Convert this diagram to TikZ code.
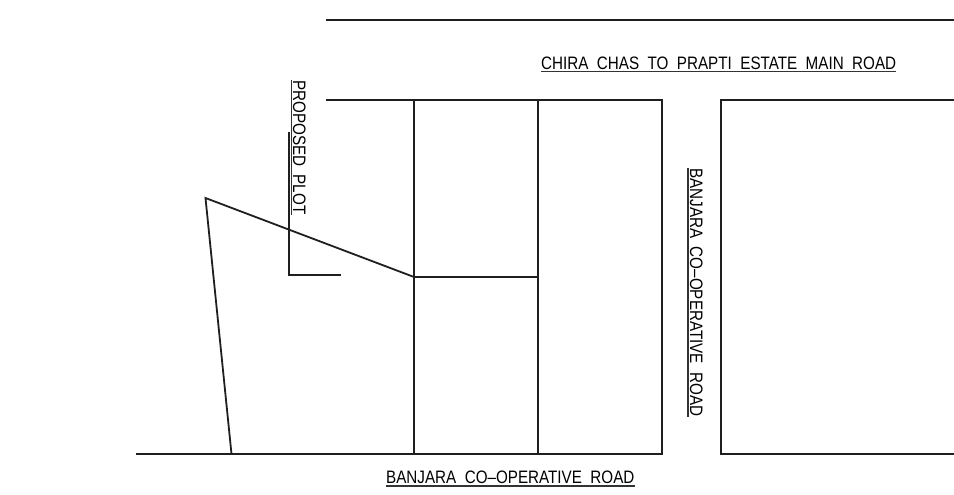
\documentclass[tikz,border=0pt]{standalone}
\usepackage{fontspec}
\setmainfont{Liberation Sans}
\newfontfamily\planofont[FakeStretch=0.845]{Liberation Sans}
\tikzset{
  muro/.style={line width=1.8pt, black!88},
  rotulo/.style={inner sep=0pt, font=\planofont\fontsize{18}{18}\selectfont, text height=13pt, text depth=0pt},
  subraya/.style={line width=1.4pt, black!80}
}
\begin{document}
\begin{tikzpicture}[x=1pt,y=-1pt]
  \useasboundingbox (0,0) rectangle (954,495);
  % Calle superior
  \draw[muro] (326,20) -- (954,20);
  \draw[line width=2.4pt, black!88] (641,20) -- (662,20);
  % Parcelas
  \draw[muro] (326,100) -- (662,100) -- (662,454) -- (136,454);
  \draw[muro] (414,100) -- (414,454);
  \draw[muro] (538,100) -- (538,454);
  \draw[muro] (954,100) -- (721,100) -- (721,454) -- (954,454);
  % Parcela propuesta
  \draw[muro] (231.5,454) -- (205.5,198) -- (414,277) -- (538,277);
  \draw[muro] (289,132) -- (289,275) -- (341,275);
  % Textos
  \node[rotulo, anchor=south west] (principal) at (541,70) {CHIRA~ CHAS~ TO~ PRAPTI~ ESTATE~ MAIN~ ROAD};
  \node[rotulo, anchor=south west] (banjarab) at (386,484) {BANJARA~ CO–OPERATIVE~ ROAD};
  \node[rotulo, rotate=-90, anchor=south west] (banjarad) at (690,168) {BANJARA~ CO–OPERATIVE~ ROAD};
  \node[rotulo, rotate=-90, anchor=south west] (propuesta) at (293,80) {PROPOSED~ PLOT};
  % Subrayados
  \draw[subraya] ([yshift=-1.5pt]principal.south west) -- ([yshift=-1.5pt]principal.south east);
  \draw[subraya] ([yshift=-2pt]banjarab.south west) -- ([yshift=-2pt]banjarab.south east);
  \draw[subraya] ([xshift=-2pt]banjarad.south west) -- ([xshift=-2pt]banjarad.south east);
  \draw[subraya] ([xshift=-1.5pt]propuesta.south west) -- ([xshift=-1.5pt]propuesta.south east);
\end{tikzpicture}
\end{document}
